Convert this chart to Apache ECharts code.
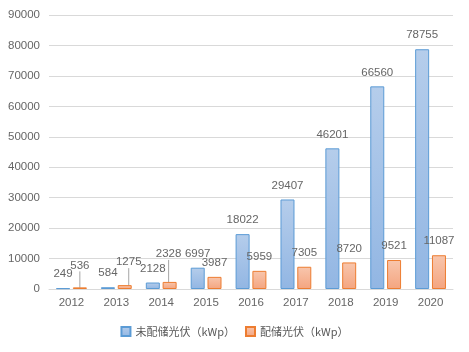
<!DOCTYPE html>
<html>
<head>
<meta charset="utf-8">
<script src="https://cdn.jsdelivr.net/npm/echarts@6/dist/echarts.min.js"></script>
<style>
  html, body { margin: 0; padding: 0; background: #fff; }
  #broken { width: 469px; height: 352px; }
</style>
</head>
<body>
<div id="broken"></div>
<script>
  // 数据
  var years = ['2012', '2013', '2014', '2015', '2016', '2017', '2018', '2019', '2020']
  var noStorage = [249, 584, 2128, 6997, 18022, 29407, 46201, 66560, 78755]
  var withStorage = [536, 1275, 2328, 3987, 5959, 7305, 8720, 9521, 11087]
  var seriesNames = ['未配储光伏（kWp）', '配储光伏（kWp）']

  // 小数值标签上移，带引导线
  var moved = { 0: [0, -8], 1: [4, -9], 2: [-1, -14] }

  var grey = '#666666'
  var numFont = '"Liberation Sans", sans-serif'
  var numSize = 11.5
  var broken = echarts.init(document.getElementById('broken'))

  function barData(values, isOrange) {
    return values.map(function(v, i) {
      var item = { value: v }
      if (isOrange && moved[i]) {
        item.labelLine = { show: true }
      }
      return item
    })
  }

  var option = {
    animation: false,
    textStyle: { fontFamily: '"Noto Sans CJK SC", "Liberation Sans", sans-serif' },
    grid: {
      left: 49,
      right: 16,
      top: 15,
      bottom: 63
    },
    legend: {
      bottom: 10,
      left: 'center',
      itemWidth: 9,
      itemHeight: 9,
      itemGap: 10,
      icon: 'rect',
      textStyle: { color: '#595959', fontSize: 11 },
      data: seriesNames
    },
    xAxis: {
      type: 'category',
      data: years,
      axisLine: { lineStyle: { color: '#d9d9d9' } },
      axisTick: { show: false },
      axisLabel: { color: grey, fontSize: numSize, fontFamily: numFont, margin: 8 }
    },
    yAxis: {
      type: 'value',
      min: 0,
      max: 90000,
      interval: 10000,
      axisLine: { show: false },
      axisTick: { show: false },
      splitLine: { lineStyle: { color: '#d9d9d9' } },
      axisLabel: {
        color: grey,
        fontSize: numSize,
        fontFamily: numFont,
        margin: 9,
        formatter: function(v) {
          return String(v)
        }
      }
    },
    series: [
      {
        name: seriesNames[0],
        type: 'bar',
        barWidth: 14,
        barGap: '20%',
        itemStyle: {
          color: new echarts.graphic.LinearGradient(0, 0, 0, 1, [
            { offset: 0, color: '#b5cdeb' },
            { offset: 1, color: '#92b6e3' }
          ]),
          borderColor: '#5b9bd5',
          borderWidth: 1
        },
        label: {
          show: true,
          position: 'top',
          distance: 8,
          color: grey,
          fontSize: numSize,
          fontFamily: numFont
        },
        data: barData(noStorage, false)
      },
      {
        name: seriesNames[1],
        type: 'bar',
        barWidth: 14,
        itemStyle: {
          color: new echarts.graphic.LinearGradient(0, 0, 0, 1, [
            { offset: 0, color: '#f8c6ad' },
            { offset: 1, color: '#f4a580' }
          ]),
          borderColor: '#ed7d31',
          borderWidth: 1
        },
        label: {
          show: true,
          position: 'top',
          distance: 8,
          color: grey,
          fontSize: numSize,
          fontFamily: numFont
        },
        labelLine: {
          show: false,
          lineStyle: { color: '#a6a6a6', width: 1 }
        },
        labelLayout: function(p) {
          var m = moved[p.dataIndex]
          if (!m) return {}
          return { dx: m[0], dy: m[1] }
        },
        data: barData(withStorage, true)
      }
    ]
  }
  broken.setOption(option)
</script>
</body>
</html>
